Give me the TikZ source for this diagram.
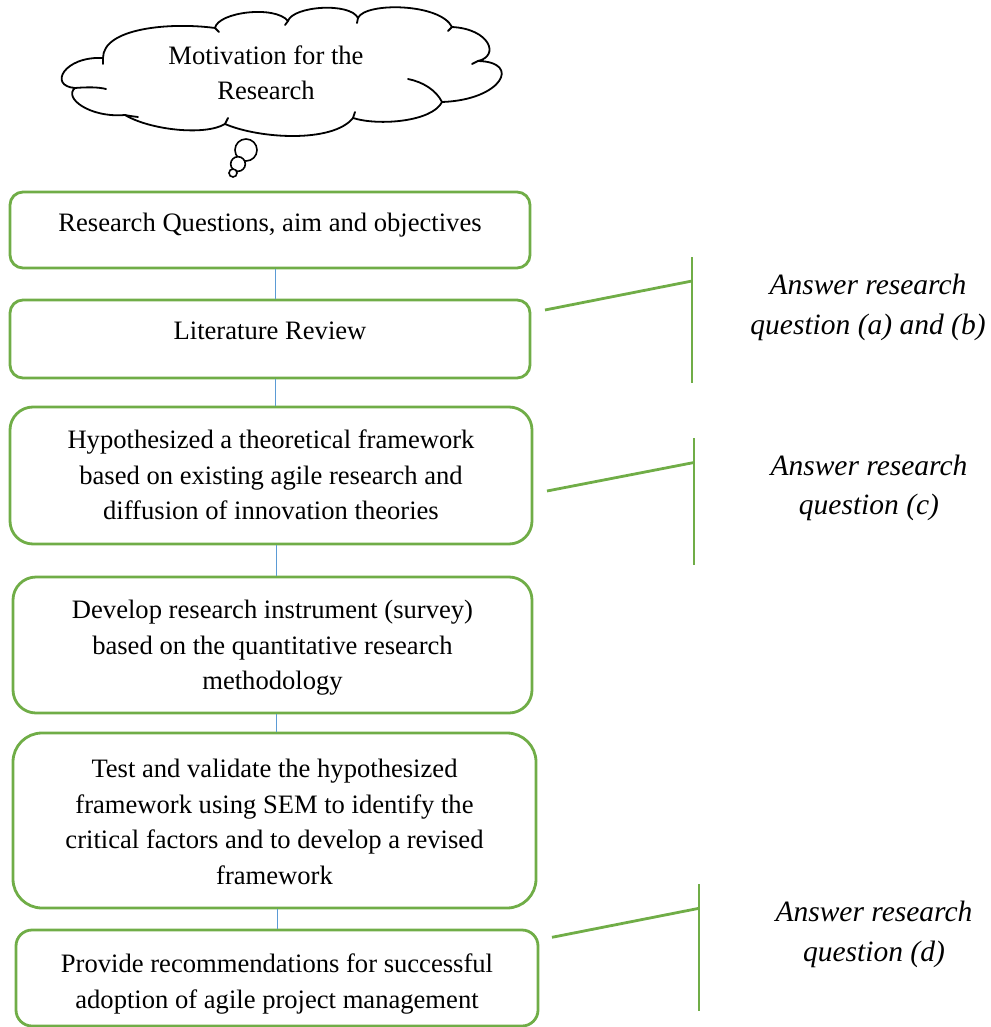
\documentclass[tikz,border=0pt]{standalone}
\usepackage{fontspec}
\setmainfont{Liberation Serif}
\definecolor{agreen}{RGB}{112,173,71}
\definecolor{ablue}{RGB}{91,155,213}
\begin{document}
\begin{tikzpicture}[x=1pt,y=-1pt,
  stepbox/.style={draw=agreen,line width=2.8pt,inner sep=0pt},
  steptext/.style={align=center,inner sep=0pt,font=\fontsize{26.6pt}{35.5pt}\selectfont},
  notetext/.style={align=center,inner sep=0pt,font=\itshape\fontsize{29.5pt}{39.5pt}\selectfont},
  link/.style={draw=ablue,line width=1.2pt},
  bracket/.style={draw=agreen,line width=2.8pt},
  cloudline/.style={draw=black,line width=1.8pt,line join=round,line cap=round},
  bubble/.style={draw=black,line width=1.6pt,fill=white}]
\useasboundingbox (0,0) rectangle (990,1027);

% thought cloud outline, puff by puff
\draw[cloudline,fill=white] (75,88) .. controls (48,86) and (64,56) .. (103,58)
  .. controls (103,28) and (170,22) .. (215,28)
  .. controls (218,12) and (275,5) .. (288,21)
  .. controls (293,6) and (350,2) .. (358,18)
  .. controls (365,2) and (440,3) .. (452,27)
  .. controls (490,29) and (500,56) .. (478,61)
  .. controls (522,62) and (502,100) .. (442,102)
  .. controls (432,122) and (378,126) .. (353,118)
  .. controls (333,143) and (260,139) .. (225,124)
  .. controls (205,136) and (150,130) .. (125,115)
  .. controls (90,118) and (63,98) .. (75,88) -- cycle;
% inner ends of the puffs
\draw[cloudline] (75,88) .. controls (88,87) and (98,87) .. (106,89);
\draw[cloudline] (125,115) .. controls (130,116) .. (138,117);
\draw[cloudline] (225,124) -- (228,118);
\draw[cloudline] (353,118) -- (355,112);
\draw[cloudline] (442,102) .. controls (436,90) and (423,82) .. (408,79);
\draw[cloudline] (478,61) -- (472,64);
\draw[cloudline] (452,27) -- (448,31);
\draw[cloudline] (358,18) -- (357,23);
\draw[cloudline] (288,21) -- (285,25);
\draw[cloudline] (215,28) -- (219,32);
\draw[cloudline] (103,58) -- (103,64);
\node[steptext,font=\fontsize{26.6pt}{34.3pt}\selectfont] (motiv) at (266,72.9) {Motivation for the\\Research};
% thought bubbles
\draw[bubble] (246,150) circle[radius=11pt];
\draw[bubble] (238,164) circle[radius=7.3pt];
\draw[bubble] (233,173) circle[radius=4pt];

% process steps
\node[stepbox,rounded corners=13pt,minimum width=520pt,minimum height=76pt] (b1) at (270,230) {};
\node[stepbox,rounded corners=13pt,minimum width=520pt,minimum height=78pt] (b2) at (270,339) {};
\node[stepbox,rounded corners=23pt,minimum width=522pt,minimum height=137pt] (b3) at (271,475.5) {};
\node[stepbox,rounded corners=23pt,minimum width=519pt,minimum height=136pt] (b4) at (272.5,645) {};
\node[stepbox,rounded corners=29pt,minimum width=523pt,minimum height=175pt] (b5) at (274.5,820.5) {};
\node[stepbox,rounded corners=16pt,minimum width=522pt,minimum height=96pt] (b6) at (277,978) {};

\node[steptext] (t1) at (270,224.9) {Research Questions, aim and objectives};
\node[steptext] (t2) at (270,330.9) {Literature Review};
\node[steptext] (t3) at (271,475) {Hypothesized a theoretical framework\\based on existing agile research and\\diffusion of innovation theories};
\node[steptext] (t4) at (272.5,648) {Develop research instrument (survey)\\based on the quantitative research\\methodology};
\node[steptext] (t5) at (274.5,822) {Test and validate the hypothesized\\framework using SEM to identify the\\critical factors and to develop a revised\\framework};
\node[steptext] (t6) at (277,984) {Provide recommendations for successful\\adoption of agile project management};

% links between steps
\draw[link] ([xshift=5.5pt]b1.south) -- ([xshift=5.5pt]b1.south |- b2.north);
\draw[link] ([xshift=5.5pt]b2.south) -- ([xshift=5.5pt]b2.south |- b3.north);
\draw[link] ([xshift=5.5pt]b3.south) -- ([xshift=5.5pt]b3.south |- b4.north);
\draw[link] ([xshift=4pt]b4.south) -- ([xshift=4pt]b4.south |- b5.north);
\draw[link] ([xshift=3pt]b5.south) -- ([xshift=3pt]b5.south |- b6.north);

% brackets to the research questions
\coordinate (k1t) at (692,257);
\coordinate (k1b) at (692,383);
\coordinate (k1j) at (692,281);
\coordinate (s1) at (545,310);
\coordinate (k2t) at (694,438);
\coordinate (k2b) at (694,565);
\coordinate (k2j) at (694,462.5);
\coordinate (s2) at (547,491);
\coordinate (k3t) at (699,884);
\coordinate (k3b) at (699,1011);
\coordinate (k3j) at (699,908.3);
\coordinate (s3) at (552,937.3);
\draw[bracket] (k1t) -- (k1b);
\draw[bracket] (s1) -- (k1j);
\draw[bracket] (k2t) -- (k2b);
\draw[bracket] (s2) -- (k2j);
\draw[bracket] (k3t) -- (k3b);
\draw[bracket] (s3) -- (k3j);

\node[notetext] (n1) at (868,307.5) {Answer research\\question (a) and (b)};
\node[notetext] (n2) at (869,488) {Answer research\\question (c)};
\node[notetext] (n3) at (874,934.5) {Answer research\\question (d)};
\end{tikzpicture}
\end{document}
